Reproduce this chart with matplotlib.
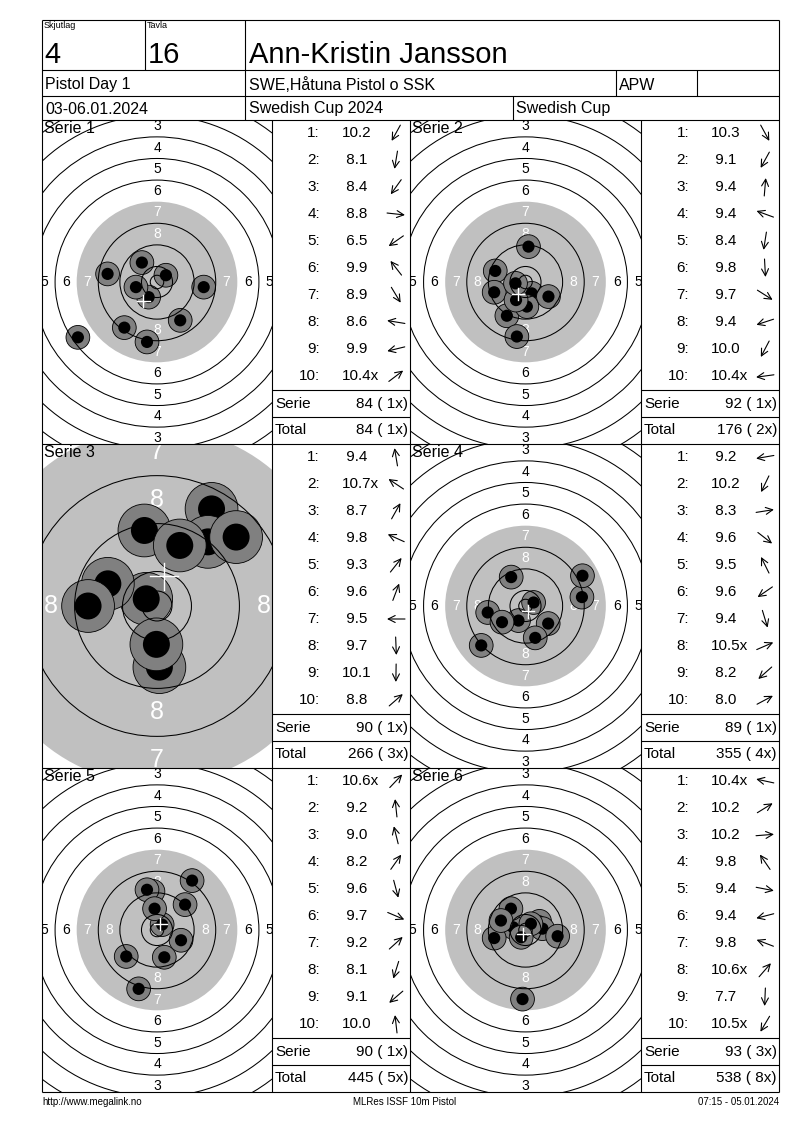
import numpy as np
import matplotlib
matplotlib.use('Agg')
import matplotlib.pyplot as plt
from matplotlib.patches import Circle

plt.rcParams['font.family'] = ['Liberation Sans', 'DejaVu Sans']

# header / footer texts
squad = '4'
lane = '16'
shooter = 'Ann-Kristin Jansson'
event = 'Pistol Day 1'
club = 'SWE,Håtuna Pistol o SSK'
klass = 'APW'
dates = '03-06.01.2024'
match = 'Swedish Cup 2024'
cup = 'Swedish Cup'
footer_left = 'http://www.megalink.no'
footer_mid = 'MLRes ISSF 10m Pistol'
footer_right = '07:15 - 05.01.2024'

# shot scores (x = inner ten) and hit positions in mm from centre (up = +y)
scores1 = ['10.2', '8.1', '8.4', '8.8', '6.5', '9.9', '8.9', '8.6', '9.9', '10.4x']
x1 = [-3.1, -3.7, -12.1, 17.3, -29.3, -5.6, 8.6, -18.3, -7.8, 3.3]
y1 = [-5.6, -22.2, -16.9, -1.9, -20.5, 7.2, -14.2, 3.0, -1.9, 2.5]

scores2 = ['10.3', '9.1', '9.4', '9.4', '8.4', '9.8', '9.7', '9.4', '10.0', '10.4x']
x2 = [2.3, -6.9, 1.1, -11.2, -3.2, 0.5, 8.5, -11.6, -3.5, -3.7]
y2 = [-4.2, -12.5, 13.1, 4.1, -20.2, -9.1, -5.4, -3.8, -6.7, -0.5]

scores3 = ['9.4', '10.7x', '8.7', '9.8', '9.3', '9.6', '9.5', '9.7', '10.1', '8.8']
x3 = [-2.1, -1.8, 9.1, -8.2, 8.5, 3.8, -11.5, 0.4, -0.1, 13.2]
y3 = [12.6, 1.2, 16.2, 3.7, 10.7, 10.1, 0.0, -10.2, -6.4, 11.5]

scores4 = ['9.2', '10.2', '8.3', '9.6', '9.5', '9.6', '9.4', '10.5x', '8.2', '8.0']
x4 = [-14.0, -2.6, 20.9, 8.4, -5.3, -8.7, 3.6, 3.0, -16.4, 21.1]
y4 = [-2.4, -5.4, 3.3, -6.5, 10.7, -6.0, -11.8, 1.3, -14.6, 11.2]

scores5 = ['10.6x', '9.2', '9.0', '8.2', '9.6', '9.7', '9.2', '8.1', '9.1', '10.0']
x5 = [1.9, -1.5, -3.7, 13.0, 2.7, 8.9, 10.4, -6.8, -11.4, -0.9]
y5 = [2.0, 14.3, 14.9, 18.3, -10.1, -3.8, 9.4, -21.8, -9.8, 7.9]

scores6 = ['10.4x', '10.2', '10.2', '9.8', '9.4', '9.4', '9.8', '10.6x', '7.7', '10.5x']
x6 = [-4.6, 5.2, 6.3, -5.4, 11.9, -11.6, -9.1, 2.0, -1.1, -1.6]
y6 = [1.0, 3.2, 0.5, 7.9, -2.3, -3.0, 3.5, 2.3, -25.6, -2.7]

series = [(scores1, x1, y1), (scores2, x2, y2), (scores3, x3, y3),
          (scores4, x4, y4), (scores5, x5, y5), (scores6, x6, y6)]
zooms = [1, 1, 2.22, 1, 1, 1]   # serie 3 is drawn magnified

# ISSF 10m air pistol target (mm)
RING_R = [77.75, 69.75, 61.75, 53.75, 45.75, 37.75, 21.75, 13.75, 5.75, 2.5]
BLACK_R = 29.75
SHOT_R = 4.4
PELLET_R = 2.25

W, H = 800, 1130
COLS = [42, 272, 410, 641, 779]
ROWS = [120, 444, 768, 1092]

fig = plt.figure(figsize=(W / 100, H / 100), dpi=100)


def px_axes(x0, y0, x1, y1):
    return fig.add_axes([x0 / W, 1 - y1 / H, (x1 - x0) / W, (y1 - y0) / H])


# targets
for i, (sc, xs, ys) in enumerate(series):
    r, c = divmod(i, 2)
    tx0, tx1 = COLS[2 * c], COLS[2 * c + 1]
    y0, y1 = ROWS[r], ROWS[r + 1]
    ax = px_axes(tx0, y0, tx1, y1)
    s = 2.7 * zooms[i]
    ax.set_xlim(-(tx1 - tx0) / 2 / s, (tx1 - tx0) / 2 / s)
    ax.set_ylim(-(y1 - y0) / 2 / s, (y1 - y0) / 2 / s)
    ax.axis('off')
    ax.add_patch(Circle((0, 0), BLACK_R, fc='#c0c0c0', ec='none', zorder=1))
    fs = 10 if zooms[i] == 1 else 18
    for k in range(1, 9):
        rr = 1.75 + (10 - k) * 8
        col = 'white' if k >= 7 else 'black'
        for lx, ly in [(0, rr), (0, -rr), (rr, 0), (-rr, 0)]:
            ax.text(lx, ly, str(k), ha='center', va='center', fontsize=fs,
                    color=col, clip_on=True, zorder=2)
    for j, (sx, sy) in enumerate(zip(xs, ys)):
        ax.add_patch(Circle((sx, sy), SHOT_R, fc='#808080', ec='black', lw=0.6,
                            zorder=3 + j * 0.01))
        ax.add_patch(Circle((sx, sy), PELLET_R, fc='black', ec='none',
                            zorder=3.005 + j * 0.01))
    for rr in RING_R:
        ax.add_patch(Circle((0, 0), rr, fill=False, ec='black', lw=0.75, zorder=4))
    mx, my = np.mean(xs), np.mean(ys)
    ax.plot([mx - 2.3, mx + 2.3], [my, my], color='white', lw=1, zorder=5)
    ax.plot([mx, mx], [my - 2.3, my + 2.3], color='white', lw=1, zorder=5)

# page layer: lines, header, tables, footer in pixel coordinates
page = fig.add_axes([0, 0, 1, 1])
page.set_xlim(0, W)
page.set_ylim(H, 0)
page.axis('off')
page.set_zorder(10)

lw = 0.8
page.hlines([20, 70, 96, 120, 444, 768, 1092], 42, 779, color='black', lw=lw)
page.vlines([42, 779], 20, 1092, color='black', lw=lw)
page.vlines(145, 20, 70, color='black', lw=lw)
page.vlines(245, 20, 120, color='black', lw=lw)
page.vlines([616, 697], 70, 96, color='black', lw=lw)
page.vlines(513, 96, 120, color='black', lw=lw)
page.vlines([272, 410, 641], 120, 1092, color='black', lw=lw)

page.text(44, 21, 'Skjutlag', fontsize=6.5, va='top')
page.text(147, 21, 'Tavla', fontsize=6.5, va='top')
page.text(44, 63, squad, fontsize=21, va='baseline')
page.text(148, 63, lane, fontsize=21, va='baseline')
page.text(249, 63, shooter, fontsize=21, va='baseline')
page.text(45, 85, event, fontsize=11.5, va='center')
page.text(249, 85, club, fontsize=11.5, va='center')
page.text(619, 85, klass, fontsize=11.5, va='center')
page.text(45, 109, dates, fontsize=11.5, va='center')
page.text(249, 109, match, fontsize=11.5, va='center')
page.text(516, 109, cup, fontsize=11.5, va='center')

total = 0
total_x = 0
for i, (sc, xs, ys) in enumerate(series):
    r, c = divmod(i, 2)
    tx0 = COLS[2 * c]
    bx0, bx1 = COLS[2 * c + 1], COLS[2 * c + 2]
    top = ROWS[r]
    page.text(tx0 + 2, top + 1, f'Serie {i + 1}', fontsize=11.5, va='top')
    for j, (lab, sx, sy) in enumerate(zip(sc, xs, ys)):
        cy = top + 13 + 27 * j
        page.text(bx0 + 48, cy, f'{j + 1}:', fontsize=11, ha='right', va='center')
        page.text(bx0 + 70, cy, f'{lab:>4}', fontsize=11, ha='left', va='center')
        # arrow points in the direction of the hit from the centre
        th = np.arctan2(sy, sx)
        cx = bx0 + 124
        dx, dy = 9 * np.cos(th), 9 * np.sin(th)
        page.annotate('', xy=(cx + dx, cy - dy), xytext=(cx - dx, cy + dy),
                      arrowprops=dict(arrowstyle='->,head_length=0.5,head_width=0.25',
                                      lw=0.8, mutation_scale=10,
                                      shrinkA=0, shrinkB=0, color='black'))
    serie = sum(int(float(v.rstrip('x'))) for v in sc)
    nx = sum(v.endswith('x') for v in sc)
    total += serie
    total_x += nx
    page.hlines([top + 270, top + 297], bx0, bx1, color='black', lw=lw)
    page.text(bx0 + 3, top + 284, 'Serie', fontsize=11, va='center')
    page.text(bx1 - 2, top + 284, f'{serie} ({nx:2d}x)', fontsize=11, ha='right', va='center')
    page.text(bx0 + 3, top + 310, 'Total', fontsize=11, va='center')
    page.text(bx1 - 2, top + 310, f'{total} ({total_x:2d}x)', fontsize=11, ha='right', va='center')

page.text(42, 1102, footer_left, fontsize=7, va='center')
page.text(405, 1102, footer_mid, fontsize=7, va='center', ha='center')
page.text(779, 1102, footer_right, fontsize=7, va='center', ha='right')

fig.savefig('out.png', dpi=100, facecolor='white')
